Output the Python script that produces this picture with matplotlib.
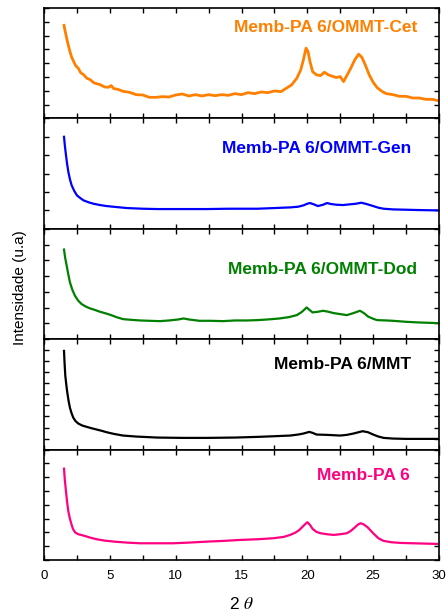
import matplotlib
matplotlib.use("Agg")
import matplotlib.pyplot as plt
from matplotlib.ticker import MultipleLocator

plt.rcParams['font.family'] = ['Liberation Sans', 'DejaVu Sans']
plt.rcParams['mathtext.fontset'] = 'stix'

# ---- data (2theta, intensity in arbitrary units) ----
cet_x = [1.52, 1.6, 1.72, 1.85, 1.97, 2.1, 2.23, 2.4, 2.6, 2.8, 3.0, 3.25, 3.5, 3.8, 4.25, 4.6,
         4.9, 5.1, 5.3, 5.6, 6.0, 6.5, 7.0, 7.5, 8.0, 8.5, 9.0, 9.5, 10.0, 10.5, 11.0, 11.5,
         12.0, 12.5, 13.0, 13.5, 14.0, 14.5, 15.0, 15.5, 16.0, 16.5, 17.0, 17.5, 18.0, 18.4,
         18.8, 19.2, 19.5, 19.7, 19.9, 20.05, 20.2, 20.4, 20.7, 21.0, 21.3, 21.6, 21.9, 22.2,
         22.5, 22.75, 23.0, 23.3, 23.6, 23.9, 24.15, 24.4, 24.7, 25.0, 25.3, 25.7, 26.0, 26.5,
         27.0, 27.5, 28.0, 28.5, 29.0, 29.5, 29.95]
cet_y = [278, 262, 240, 218, 200, 183, 172, 158, 150, 136, 131, 120, 116, 106, 101, 94,
         93, 98, 89, 87, 81, 78, 71, 70, 63, 63, 65, 64, 70, 73, 67, 71,
         67, 71, 68, 71, 69, 74, 71, 77, 74, 79, 77, 82, 80, 90,
         100, 120, 145, 175, 210, 200, 170, 140, 130, 128, 138, 130, 126, 122,
         125, 110, 128, 150, 175, 192, 182, 160, 130, 108, 92, 80, 74, 71,
         66, 66, 61, 61, 57, 57, 53]

gen_x = [1.52, 1.58, 1.67, 1.75, 1.85, 1.97, 2.1, 2.3, 2.5, 2.75, 3.0, 3.4, 3.75, 4.25, 4.75,
         5.5, 6.3, 7.5, 8.6, 10.0, 12.4, 14.0, 16.2, 17.5, 18.7, 19.3, 19.7, 20.0, 20.2, 20.5,
         20.8, 21.2, 21.5, 21.8, 22.2, 22.7, 23.2, 23.7, 24.1, 24.5, 25.0, 25.4, 25.8, 26.5,
         27.5, 28.5, 29.95]
gen_y = [275, 250, 220, 195, 170, 148, 130, 113, 100, 92, 85, 79, 75, 71, 68,
         65, 62, 60, 59, 59, 59, 60, 60, 62, 64, 66, 70, 75, 77, 73,
         68, 72, 77, 74, 72, 71, 73, 75, 78, 74, 68, 63, 60, 58,
         57, 56, 55]

dod_x = [1.52, 1.6, 1.72, 1.85, 1.97, 2.15, 2.35, 2.6, 2.86, 3.2, 3.5, 3.9, 4.25, 4.7, 5.1,
         5.5, 6.0, 6.6, 7.3, 8.0, 8.8, 9.5, 10.2, 10.6, 11.0, 11.8, 12.6, 13.6, 14.5, 15.4,
         16.2, 17.0, 17.9, 18.6, 19.2, 19.6, 19.95, 20.15, 20.4, 20.8, 21.2, 21.6, 22.0, 22.5,
         23.0, 23.5, 24.0, 24.3, 24.6, 25.0, 25.3, 26.0, 26.5, 27.5, 28.5, 29.95]
dod_y = [268, 245, 220, 193, 170, 148, 130, 115, 105, 97, 92, 87, 82, 77, 72,
         66, 60, 58, 56, 55, 54, 56, 59, 62, 59, 55, 55, 54, 56, 56,
         57, 59, 62, 66, 72, 82, 95, 88, 80, 82, 85, 82, 78, 75,
         72, 78, 85, 78, 68, 61, 57, 56, 55, 52, 50, 48]

mmt_x = [1.52, 1.56, 1.62, 1.7, 1.77, 1.87, 1.97, 2.1, 2.23, 2.4, 2.6, 2.9, 3.24, 3.6, 4.0,
         4.4, 4.75, 5.3, 6.0, 7.0, 8.6, 10.5, 12.4, 14.5, 16.2, 17.5, 18.7, 19.3, 19.7, 20.15,
         20.4, 20.7, 21.5, 22.5, 23.0, 23.5, 23.9, 24.2, 24.6, 25.0, 25.4, 25.8, 26.5, 27.5,
         29.95]
mmt_y = [295, 260, 220, 192, 170, 145, 125, 108, 95, 85, 78, 72, 68, 64, 60,
         56, 52, 47, 42, 39, 36, 35, 35, 36, 38, 40, 42, 45, 48, 53,
         50, 45, 44, 42, 44, 48, 52, 55, 52, 45, 39, 35, 33, 32,
         32]

pa6_x = [1.52, 1.58, 1.67, 1.75, 1.85, 1.97, 2.1, 2.2, 2.35, 2.6, 3.0, 3.5, 4.0, 4.6, 5.3,
         6.3, 7.3, 8.5, 9.8, 11.0, 12.4, 13.6, 14.9, 16.2, 17.4, 18.2, 18.7, 19.1, 19.4, 19.7,
         20.0, 20.2, 20.4, 20.7, 21.0, 21.5, 22.0, 22.5, 23.0, 23.3, 23.6, 23.85, 24.05, 24.3,
         24.6, 25.0, 25.4, 25.8, 26.4, 27.1, 28.0, 29.0, 29.95]
pa6_y = [273, 240, 205, 175, 145, 123, 105, 93, 83, 77, 73, 67, 62, 58, 55,
         52, 50, 50, 50, 52, 55, 57, 60, 62, 65, 69, 75, 82, 90, 102,
         113, 105, 93, 84, 80, 77, 75, 77, 80, 87, 97, 106, 110, 106,
         97, 80, 65, 57, 53, 51, 50, 49, 48]

labels = ["Memb-PA 6/OMMT-Cet", "Memb-PA 6/OMMT-Gen", "Memb-PA 6/OMMT-Dod",
          "Memb-PA 6/MMT", "Memb-PA 6"]
xs = [cet_x, gen_x, dod_x, mmt_x, pa6_x]
ys = [cet_y, gen_y, dod_y, mmt_y, pa6_y]
colors = ['#FF8000', '#0000FF', '#008000', '#000000', '#FF0080']
linewidths = [2.0, 1.6, 1.6, 1.6, 1.6]
ytick_div = [8, 6, 7, 10, 8]
label_pos = [(0.944, 0.827), (0.929, 0.727), (0.944, 0.627), (0.929, 0.773), (0.927, 0.764)]
xtick_labels = ['0', '5', '10', '15', '20', '25', '30']

fig = plt.figure(figsize=(4.46, 6.13), dpi=100)
left, right = 44 / 446, 439 / 446
top, bottom = 1 - 8 / 613, 1 - 560 / 613
h = (top - bottom) / 5
YMAX = 330.0

for i in range(5):
    ax = fig.add_axes([left, top - (i + 1) * h, right - left, h])
    ax.plot(xs[i], ys[i], color=colors[i], lw=linewidths[i], solid_joinstyle='round')
    ax.set_xlim(0, 30)
    ax.set_ylim(0, YMAX)
    ax.xaxis.set_major_locator(MultipleLocator(5))
    ax.xaxis.set_minor_locator(MultipleLocator(2.5))
    ax.yaxis.set_major_locator(MultipleLocator(YMAX / ytick_div[i]))
    ax.tick_params(which='both', direction='in', top=True, right=True, length=3.5, width=1.0)
    ax.set_yticklabels([])
    for s in ax.spines.values():
        s.set_linewidth(1.2)
    if i < 4:
        ax.set_xticklabels([])
    else:
        ax.set_xticks([0, 5, 10, 15, 20, 25, 30])
        ax.set_xticklabels(xtick_labels, fontsize=9.5)
        ax.tick_params(axis='x', pad=7)
        ax.set_xlabel(r'2 $\theta$', fontsize=12.5, labelpad=10)
    ax.text(label_pos[i][0], label_pos[i][1], labels[i], transform=ax.transAxes,
            ha='right', va='center', fontsize=12.5, fontweight='bold', color=colors[i])

fig.text(20 / 446, 1 - 288 / 613, 'Intensidade (u.a)', rotation=90, ha='center', va='center',
         fontsize=11)

fig.savefig('out.png', dpi=100)
